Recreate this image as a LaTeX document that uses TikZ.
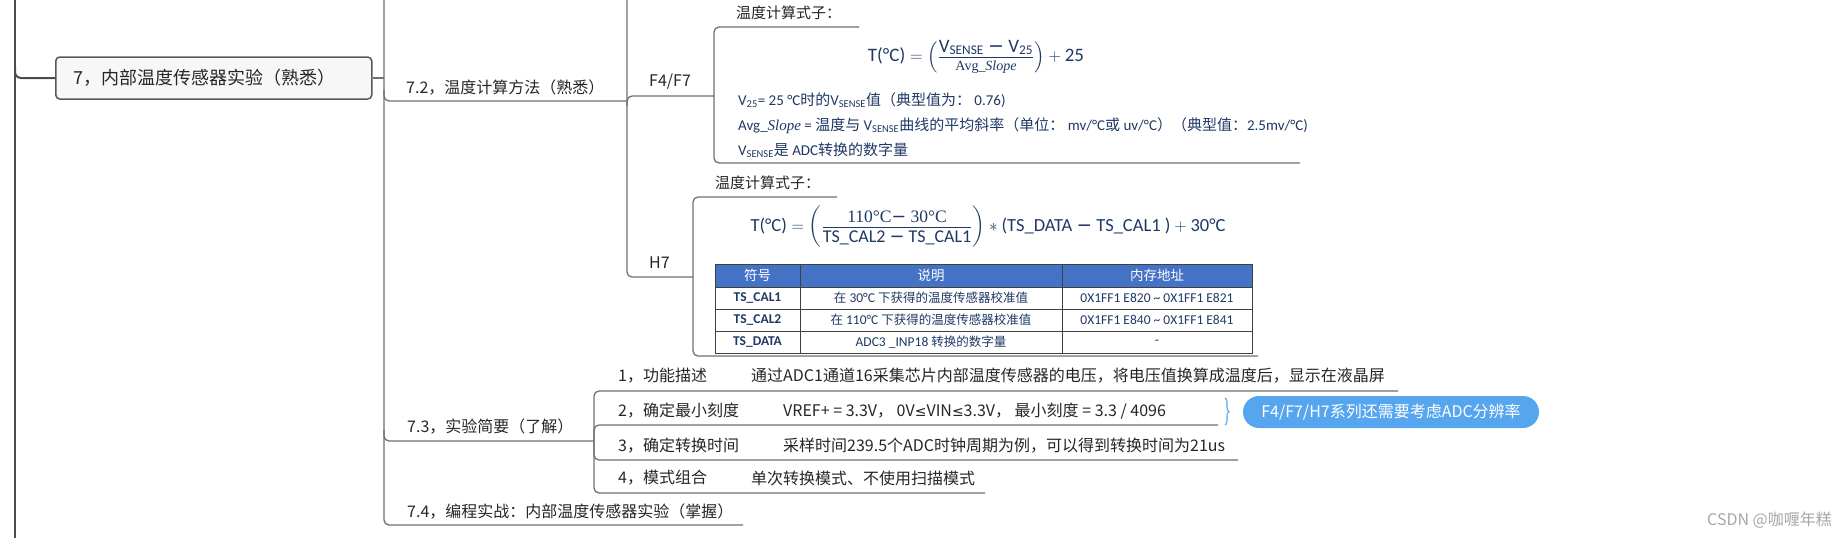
\documentclass[tikz,border=0pt]{standalone}
\usepackage{fontspec}
\usepackage{amsmath}
\setmainfont{Noto Sans CJK SC}
\newfontfamily\zhfont{Noto Sans CJK SC}
\newfontfamily\calfont{Carlito}
\newfontfamily\serfont{Liberation Serif}
\newfontfamily\djfont{DejaVu Sans}
\newcommand\zh[1]{{\zhfont #1}}
\newcommand\mns{{\djfont −}}
\newcommand\leqs{{\djfont\fontsize{14}{16}\selectfont ≤}}
\usetikzlibrary{decorations.pathreplacing}
\definecolor{ink}{HTML}{262626}
\definecolor{lnk}{HTML}{707070}
\definecolor{navy}{HTML}{1F3864}
\definecolor{hdr}{HTML}{4472C4}
\definecolor{pillc}{HTML}{56A5EF}
\begin{document}
\begin{tikzpicture}[x=1pt,y=-1pt,
  conn/.style={draw=lnk, line width=1.3pt, rounded corners=5pt},
  trunk/.style={draw=black!70, line width=2.4pt},
  lbl/.style={anchor=west, inner sep=0pt, text=ink, font=\fontsize{16}{19}\selectfont},
  mainbox/.style={draw=black!65, line width=1.5pt, fill=black!3, rounded corners=4pt,
    anchor=west, text width=280pt, align=left, inner xsep=18pt, inner ysep=0pt,
    minimum height=42pt, text=ink, font=\fontsize{18}{21}\selectfont},
  fml/.style={inner sep=0pt, text=navy, font=\calfont\fontsize{19}{22}\selectfont},
  txt/.style={anchor=west, inner sep=0pt, text=navy, font=\calfont\fontsize{15}{18}\selectfont},
  cell/.style={inner sep=0pt, text=navy, font=\calfont\fontsize{13.5}{16}\selectfont},
  hcell/.style={inner sep=0pt, text=white, font=\zhfont\fontsize{13.5}{16}\selectfont},
  grid/.style={draw=black!75, line width=0.8pt},
  pillnode/.style={fill=pillc, rounded corners=16pt, minimum width=296pt, minimum height=32pt,
    inner sep=0pt, text=white, font=\fontsize{16}{19}\selectfont}
]
\useasboundingbox (0,0) rectangle (1847,538);

% trunk and main node
\draw[trunk] (15,0) -- (15,538);
\node[mainbox] (m) at (55,78) {7，内部温度传感器实验（熟悉）};
\draw[draw=black!70, line width=2pt, rounded corners=6pt] (15,66) -- (15,78) -- (m.west);

% level 2 connectors
\coordinate (j1) at (384,78);
\coordinate (e72) at (627,101);
\coordinate (e73) at (594,441);
\coordinate (e74) at (743,525);
\draw[conn] (m.east) -- (j1);
\draw[conn] (384,0) -- (384,525) -- (e74);
\draw[conn] (384,90) -- (384,101) -- (e72);
\draw[conn] (384,430) -- (384,441) -- (e73);
\node[lbl] (t72) at (406,88) {7.2，温度计算方法（熟悉）};
\node[lbl] (t73) at (407,427) {7.3，实验简要（了解）};
\node[lbl] (t74) at (407,512) {7.4，编程实战：内部温度传感器实验（掌握）};

% 7.2 children
\coordinate (ef4) at (714,96);
\coordinate (eh7) at (693,277);
\draw[conn] (627,0) -- (627,277) -- (eh7);
\draw[conn] (627,106) -- (627,96) -- (ef4);
\node[lbl] (tf4) at (649,82) {F4/F7};
\node[lbl] (th7) at (649,263) {H7};

% F4/F7 bracket
\draw[conn] (859,27) -- (714,27) -- (714,163) -- (1300,163);
\node[lbl, font=\fontsize{15}{18}\selectfont] (g1) at (736,13) {温度计算式子：};
\node[fml] (f1) at (976,57) {$\text{T(°C)} = \left(\genfrac{}{}{0.7pt}{1}{\text{\calfont\fontsize{19}{22}\selectfont V\textsubscript{SENSE} \mns{} V\textsubscript{25}\rule[-4pt]{0pt}{4pt}}}{\text{\serfont\fontsize{14}{16}\selectfont\rule{0pt}{12.5pt}Avg\_\textit{Slope}}}\right) + \text{25}$};
\node[txt] (v25) at (738,100) {V\textsubscript{25}= 25 °C\zh{时的}V\textsubscript{SENSE}\zh{值（典型值为：} 0.76)};
\node[txt] (avg) at (738,126) {Avg\_{\serfont\itshape Slope} = \zh{温度与} V\textsubscript{SENSE}\zh{曲线的平均斜率（单位：} mv/°C\zh{或} uv/°C\zh{）（典型值：}2.5mv/°C)};
\node[txt] (vs) at (738,150) {V\textsubscript{SENSE}\zh{是} ADC\zh{转换的数字量}};

% H7 bracket
\draw[conn] (837,197) -- (693,197) -- (693,356) -- (1258,356);
\node[lbl, font=\fontsize{15}{18}\selectfont] (g2) at (715,183) {温度计算式子：};
\node[fml, font=\calfont\fontsize{18.5}{22}\selectfont] (f2) at (988,227) {$\text{T(°C)} = \left(\genfrac{}{}{0.7pt}{1}{\text{\serfont\fontsize{17.5}{20}\selectfont 110°C\mns{} 30°C\rule[-3pt]{0pt}{3pt}}}{\text{\calfont\fontsize{18}{21}\selectfont\rule{0pt}{14.5pt}TS\_CAL2 \mns{} TS\_CAL1}}\right) \ast \text{(TS\_DATA \mns{} TS\_CAL1 )} + \text{30°C}$};

% table
\fill[hdr] (715,264) rectangle (1252,287);
\draw[grid] (715,264) rectangle (1252,353);
\draw[grid] (715,287) -- (1252,287) (715,309) -- (1252,309) (715,331) -- (1252,331)
  (800,264) -- (800,353) (1062,264) -- (1062,353);
\node[hcell] (h1) at (757.5,275.5) {符号};
\node[hcell] (h2) at (931,275.5) {说明};
\node[hcell] (h3) at (1157,275.5) {内存地址};
\node[cell, font=\calfont\bfseries\fontsize{13.5}{16}\selectfont] (a1) at (757.5,298) {TS\_CAL1};
\node[cell] (b1) at (931,298) {{\zhfont\fontsize{12.5}{15}\selectfont 在} 30°C {\zhfont\fontsize{12.5}{15}\selectfont 下获得的温度传感器校准值}};
\node[cell] (c1) at (1157,298) {0X1FF1 E820 \textasciitilde{} 0X1FF1 E821};
\node[cell, font=\calfont\bfseries\fontsize{13.5}{16}\selectfont] (a2) at (757.5,320) {TS\_CAL2};
\node[cell] (b2) at (931,320) {{\zhfont\fontsize{12.5}{15}\selectfont 在} 110°C {\zhfont\fontsize{12.5}{15}\selectfont 下获得的温度传感器校准值}};
\node[cell] (c2) at (1157,320) {0X1FF1 E840 \textasciitilde{} 0X1FF1 E841};
\node[cell, font=\calfont\bfseries\fontsize{13.5}{16}\selectfont] (a3) at (757.5,342) {TS\_DATA};
\node[cell] (b3) at (931,342) {ADC3 \_INP18 {\zhfont\fontsize{12.5}{15}\selectfont 转换的数字量}};
\node[cell] (c3) at (1157,342) {-};

% 7.3 children
\coordinate (u1) at (1398,391);
\coordinate (u2) at (1218,425);
\coordinate (u3) at (1238,460);
\coordinate (u4) at (985,493);
\draw[conn] (e73) -- (594,391) -- (u1);
\draw[conn] (e73) -- (594,425) -- (u2);
\draw[conn] (e73) -- (594,460) -- (u3);
\draw[conn] (e73) -- (594,493) -- (u4);
\node[lbl] (i1) at (618,376) {1，功能描述};
\node[lbl] (d1) at (751,376) {通过ADC1通道16采集芯片内部温度传感器的电压，将电压值换算成温度后，显示在液晶屏};
\node[lbl] (i2) at (618,411) {2，确定最小刻度};
\node[lbl] (d2) at (783,411) {VREF+ = 3.3V， 0V\leqs VIN\leqs 3.3V， 最小刻度 = 3.3 / 4096};
\node[lbl] (i3) at (618,446) {3，确定转换时间};
\node[lbl] (d3) at (783,446) {采样时间239.5个ADC时钟周期为例，可以得到转换时间为21us};
\node[lbl] (i4) at (618,478) {4，模式组合};
\node[lbl] (d4) at (751,478) {单次转换模式、不使用扫描模式};

% callout
\coordinate (bt) at (1225,398);
\coordinate (bb) at (1225,425);
\draw[draw=pillc, line width=1.1pt, decorate, decoration={brace, amplitude=4pt}] (bt) -- (bb);
\node[pillnode] (p) at (1391,412) {F4/F7/H7系列还需要考虑ADC分辨率};

% watermark
\node[anchor=east, inner sep=0pt, text=black!35, font=\fontsize{16}{19}\selectfont] (wm) at (1832,520) {CSDN @咖喱年糕};
\end{tikzpicture}
\end{document}
